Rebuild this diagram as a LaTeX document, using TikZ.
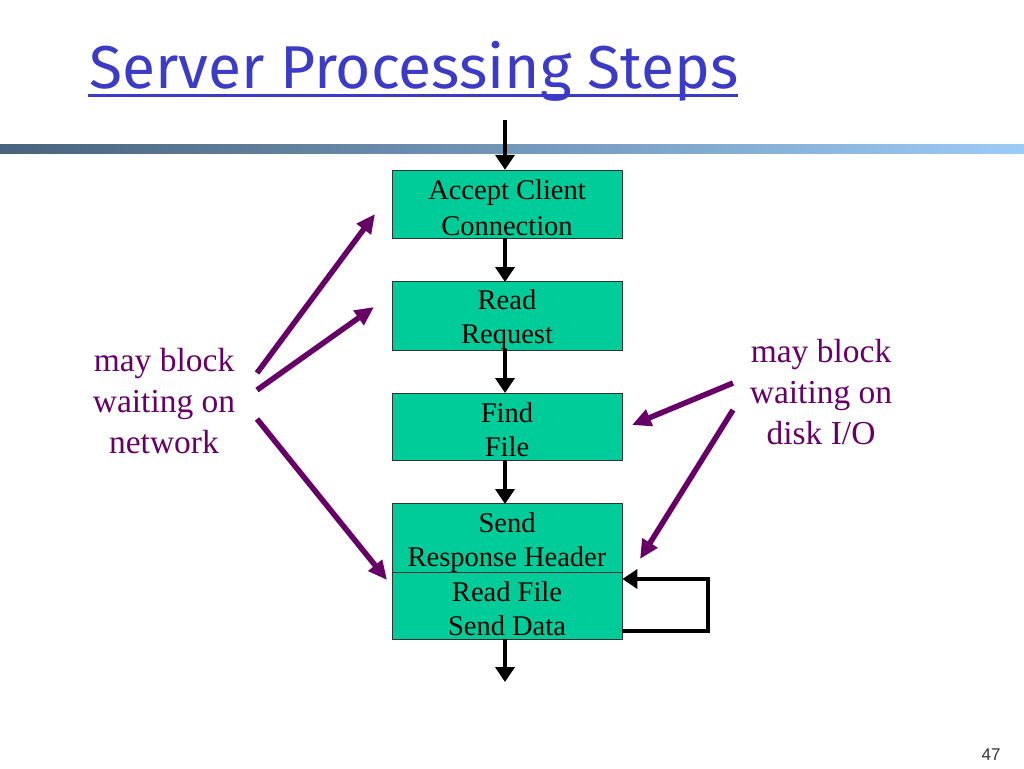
\documentclass[tikz,border=0pt]{standalone}
\usepackage{fontspec}
\setmainfont{Liberation Serif}
\newfontfamily\titlefont{Fira Sans}
\newfontfamily\numfont{Liberation Sans}
\usetikzlibrary{arrows.meta}
\definecolor{boxgreen}{HTML}{00CC99}
\definecolor{titleblue}{HTML}{3B3BC8}
\definecolor{purp}{HTML}{660066}
\definecolor{barleft}{HTML}{4A637C}
\definecolor{barright}{HTML}{9CCBF6}
\newcommand{\bx}{\rule[-3.5pt]{0pt}{32.5pt}}
\tikzset{
  stepbox/.style={draw=black!80, line width=0.8pt, fill=boxgreen, minimum width=230pt, inner sep=0pt, align=center, font=\fontsize{28.5}{34}\selectfont},
  blk/.style={line width=4pt, -{Triangle[length=15pt,width=19pt]}},
  prp/.style={purp, line width=5.5pt, -{Triangle[length=19pt,width=17pt]}},
  lbl/.style={purp, align=center, font=\fontsize{33.5}{41}\selectfont}
}
\begin{document}
\begin{tikzpicture}[x=1pt,y=-1pt]
\useasboundingbox (0,0) rectangle (1024,768);
% title
\node[anchor=base west, inner sep=0pt, text=titleblue, font=\titlefont\fontsize{60.5}{64}\selectfont] (title) at (89,88) {Server Processing Steps};
\draw[titleblue, line width=2.6pt] (88,95.5) -- (738,95.5);
% bar
\shade[left color=barleft, right color=barright] (0,144) rectangle (1024,153);
% boxes
\node[stepbox, minimum height=67pt] (b1) at (507,204.5) {Accept Client\bx\\Connection\bx};
\node[stepbox, minimum height=67pt] (b2) at (507,315.5) {Read\bx\\Request\bx};
\node[stepbox, minimum height=67pt] (b3) at (507,426.5) {Find\bx\\File\bx};
\node[stepbox, minimum height=68pt] (b4) at (507,538) {Send\bx\\Response Header\bx};
\node[stepbox, minimum height=67pt] (b5) at (507,605.5) {Read File\bx\\Send Data\bx};
% black flow arrows
\coordinate (in) at (505,120);
\coordinate (out) at (505,682);
\draw[blk] (in) -- (in |- b1.north);
\draw[blk] (505,238) -- (505,282);
\draw[blk] (505,349) -- (505,393);
\draw[blk] (505,460) -- (505,504);
\draw[blk] (505,639) -- (out);
\coordinate (l1) at (708,631);
\coordinate (l2) at (708,579);
\draw[line width=4pt, -{Triangle[length=15pt,width=19pt]}] (b5.east |- l1) -- (l1) -- (l2) -- (b5.east |- l2);
% labels
\node[lbl] (net) at (164,401) {may block\\waiting on\\network};
\node[lbl] (disk) at (821,392) {may block\\waiting on\\disk I/O};
% purple arrows
\coordinate (n1) at (257,373);
\coordinate (n2) at (257,390);
\coordinate (n3) at (257,419);
\coordinate (t1) at (375,214);
\coordinate (t2) at (374,307);
\coordinate (t3) at (387,580);
\draw[prp] (n1) -- (t1);
\draw[prp] (n2) -- (t2);
\draw[prp] (n3) -- (t3);
\coordinate (d1) at (733,383);
\coordinate (d2) at (733,410);
\coordinate (e1) at (632,425);
\coordinate (e2) at (640,559);
\draw[prp] (d1) -- (e1);
\draw[prp] (d2) -- (e2);
% page number
\node[font=\numfont\fontsize{17}{20}\selectfont, text=black!80] (pg) at (991,755) {47};
\end{tikzpicture}
\end{document}
